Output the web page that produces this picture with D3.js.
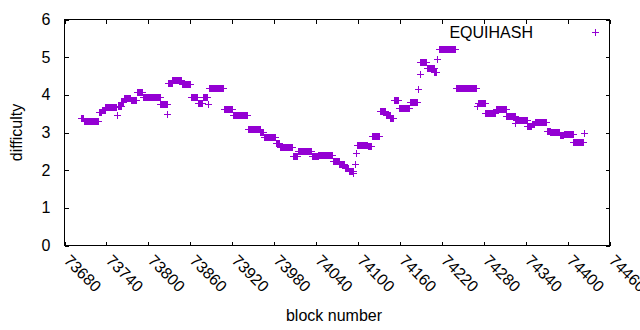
<!DOCTYPE html>
<html>
<head>
<meta charset="utf-8">
<script src="https://cdn.jsdelivr.net/npm/d3@7/dist/d3.min.js"></script>
<style>
body { margin: 0; background: #fff; }
text { font-family: "Liberation Sans", Arial, sans-serif; fill: #000; }
</style>
</head>
<body>
<svg id="chart" width="640" height="330"></svg>
<script>
// difficulty stays flat over runs of blocks; each run
var runStart = [73704, 73708, 73730, 73734, 73739, 73756, 73757, 73762, 73766, 73776,
  73784, 73793, 73818, 73828, 73829, 73835, 73849, 73862, 73872, 73879,
  73886, 73887, 73909, 73922, 73943, 73961, 73966, 73983, 73989, 74008,
  74015, 74035, 74044, 74065, 74074, 74082, 74088, 74094, 74096, 74098,
  74100, 74115, 74121, 74132, 74141, 74147, 74152, 74159, 74175, 74187,
  74189, 74190, 74199, 74210, 74214, 74216, 74241, 74271, 74272, 74283,
  74298, 74313, 74326, 74327, 74343, 74350, 74354, 74371, 74376, 74390,
  74395, 74409, 74424];
var runEnd = [73707, 73729, 73733, 73738, 73755, 73756, 73761, 73765, 73775, 73783,
  73792, 73817, 73827, 73828, 73834, 73848, 73861, 73871, 73878, 73885,
  73886, 73908, 73921, 73942, 73960, 73965, 73982, 73988, 74007, 74014,
  74034, 74043, 74064, 74073, 74081, 74087, 74093, 74094, 74096, 74098,
  74114, 74120, 74131, 74140, 74146, 74151, 74158, 74174, 74185, 74187,
  74189, 74198, 74209, 74213, 74214, 74240, 74270, 74271, 74282, 74297,
  74312, 74325, 74326, 74342, 74349, 74353, 74370, 74375, 74389, 74394,
  74408, 74423, 74424];
var runDifficulty = [3.38, 3.30, 3.52, 3.59, 3.66, 3.44, 3.70, 3.79, 3.91, 3.86,
  4.06, 3.93, 3.75, 3.48, 4.30, 4.38, 4.28, 3.93, 3.77, 3.93,
  3.75, 4.17, 3.61, 3.45, 3.08, 3.01, 2.88, 2.72, 2.61, 2.36,
  2.50, 2.36, 2.40, 2.23, 2.14, 2.05, 1.97, 1.90, 2.16, 2.44,
  2.65, 2.62, 2.89, 3.55, 3.46, 3.36, 3.85, 3.64, 3.80, 4.13,
  4.54, 4.85, 4.70, 4.60, 4.94, 5.21, 4.17, 3.68, 3.77, 3.51,
  3.62, 3.42, 3.24, 3.31, 3.15, 3.22, 3.27, 3.02, 3.00, 2.91,
  2.95, 2.74, 2.98];

var xTicks = [73680, 73740, 73800, 73860, 73920, 73980, 74040, 74100, 74160, 74220, 74280, 74340, 74400, 74460];
var yTicks = [0, 1, 2, 3, 4, 5, 6];
var seriesName = "EQUIHASH";

var points = [];
for (var i = 0; i < runStart.length; i++) {
  for (var b = runStart[i]; b <= runEnd[i]; b++) {
    points.push({block: b, difficulty: runDifficulty[i]});
  }
}

var plotLeft = 64.5, plotRight = 609.5, plotTop = 19.5, plotBottom = 245.5;
var color = "#9400d3";
var fontSize = 16;
var svg = d3.select("#chart");

var x = d3.scaleLinear().domain([73680, 74460]).range([plotLeft, plotRight]);
var y = d3.scaleLinear().domain([0, 6]).range([plotBottom, plotTop]);

// gnuplot style: ticks inside, mirrored on top/right
var xAxis = svg.append("g").attr("transform", "translate(0," + plotBottom + ")")
  .call(d3.axisBottom(x).tickValues(xTicks).tickFormat(d3.format("d")).tickSize(-4).tickSizeOuter(0));
xAxis.selectAll("text")
  .attr("text-anchor", "start")
  .attr("y", 0).attr("dy", "0.35em")
  .attr("transform", "translate(2,12) rotate(45)");

svg.append("g").attr("transform", "translate(0," + plotTop + ")")
  .call(d3.axisTop(x).tickValues(xTicks).tickFormat("").tickSize(-4).tickSizeOuter(0));

svg.append("g").attr("transform", "translate(" + plotLeft + ",0)")
  .call(d3.axisLeft(y).tickValues(yTicks).tickFormat(d3.format("d")).tickSize(-4).tickSizeOuter(0).tickPadding(14));

svg.append("g").attr("transform", "translate(" + plotRight + ",0)")
  .call(d3.axisRight(y).tickValues(yTicks).tickFormat("").tickSize(-4).tickSizeOuter(0));

svg.selectAll(".domain").remove();
svg.selectAll(".tick line").attr("stroke", "#000").attr("shape-rendering", "crispEdges");
svg.selectAll(".tick text").attr("font-size", fontSize).attr("font-family", "Liberation Sans, Arial, sans-serif");

svg.append("rect")
  .attr("x", plotLeft).attr("y", plotTop)
  .attr("width", plotRight - plotLeft).attr("height", plotBottom - plotTop)
  .attr("fill", "none").attr("stroke", "#000").attr("shape-rendering", "crispEdges");

function plus(cx, cy) {
  var px = Math.floor(cx) + 0.5, py = Math.floor(cy) + 0.5;
  return "M" + (px - 3.5) + "," + py + "H" + (px + 3.5) + "M" + px + "," + (py - 3.5) + "V" + (py + 3.5);
}

svg.append("g").selectAll("path")
  .data(points)
  .enter().append("path")
  .attr("d", function(d) { return plus(x(d.block), y(d.difficulty)); })
  .attr("stroke", color)
  .attr("fill", "none")
  .attr("shape-rendering", "crispEdges");

// key
svg.append("text")
  .attr("x", 533).attr("y", 32).attr("dy", "0.35em")
  .attr("text-anchor", "end").attr("font-size", fontSize)
  .text(seriesName);
svg.append("path")
  .attr("d", plus(595, 32))
  .attr("stroke", color).attr("shape-rendering", "crispEdges");

svg.append("text")
  .attr("x", 334).attr("y", 321)
  .attr("text-anchor", "middle").attr("font-size", fontSize)
  .text("block number");

svg.append("text")
  .attr("transform", "translate(22," + ((plotTop + plotBottom) / 2) + ") rotate(-90)")
  .attr("text-anchor", "middle").attr("font-size", fontSize)
  .text("difficulty");
</script>
</body>
</html>
